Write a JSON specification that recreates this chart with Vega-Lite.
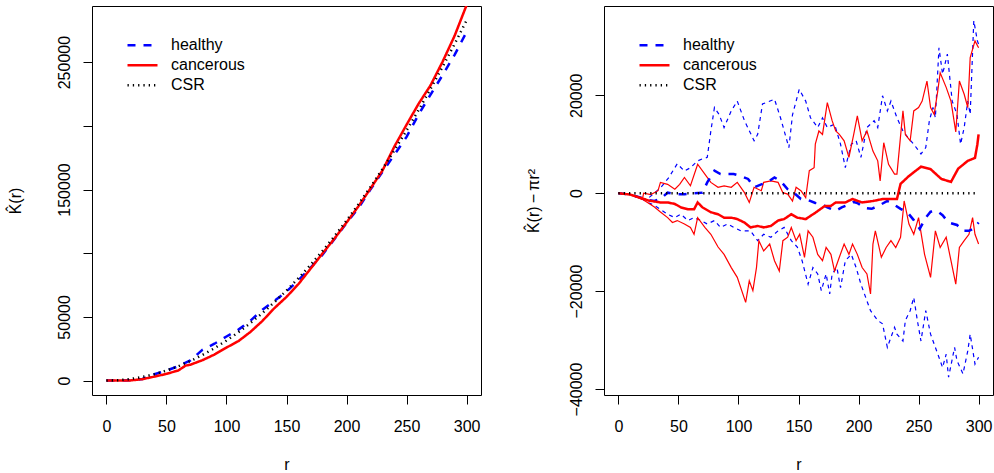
{
  "$schema": "https://vega.github.io/schema/vega-lite/v6.json",
  "padding": {"left": 6, "top": 5, "right": 0, "bottom": 0},
  "autosize": {"type": "pad"},
  "config": {
    "font": "Liberation Sans",
    "view": {"stroke": "black", "strokeWidth": 1},
    "axis": {"domain": false, "grid": false, "tickColor": "black", "tickSize": 9, "labelColor": "black", "titleColor": "black", "labelFontSize": 16, "titleFontSize": 16, "titleFontWeight": "normal", "labelFont": "Liberation Sans", "titleFont": "Liberation Sans", "labelOverlap": false, "labelFlush": false},
    "axisX": {"labelPadding": 14, "titlePadding": 22, "labelAngle": 0},
    "axisY": {"labelPadding": 11, "titlePadding": 33, "labelAngle": -90, "labelAlign": "center", "labelBaseline": "bottom"},
    "legend": {"orient": "none", "legendX": 34, "legendY": 29.5, "symbolType": "stroke", "symbolSize": 900, "labelFontSize": 16, "labelFont": "Liberation Sans", "labelColor": "black", "labelOffset": 12, "padding": 0, "rowPadding": 0, "clipHeight": 19.5}
  },
  "bounds": "flush",
  "spacing": 123,
  "datasets": {
    "left": [
      {"r":0,"series":"healthy","K":0},{"r":10,"series":"healthy","K":14},{"r":20,"series":"healthy","K":257},{"r":30,"series":"healthy","K":1227},{"r":40,"series":"healthy","K":5027},{"r":50,"series":"healthy","K":7854},{"r":60,"series":"healthy","K":11310},{"r":70,"series":"healthy","K":15894},{"r":80,"series":"healthy","K":24106},{"r":90,"series":"healthy","K":28947},{"r":100,"series":"healthy","K":34616},{"r":110,"series":"healthy","K":40013},{"r":120,"series":"healthy","K":47039},{"r":130,"series":"healthy","K":55593},{"r":140,"series":"healthy","K":62575},{"r":150,"series":"healthy","K":69886},{"r":160,"series":"healthy","K":78925},{"r":170,"series":"healthy","K":88592},{"r":180,"series":"healthy","K":98788},{"r":190,"series":"healthy","K":111212},{"r":200,"series":"healthy","K":123664},{"r":210,"series":"healthy","K":135544},{"r":220,"series":"healthy","K":150053},{"r":230,"series":"healthy","K":163990},{"r":240,"series":"healthy","K":177456},{"r":250,"series":"healthy","K":191350},{"r":260,"series":"healthy","K":208872},{"r":270,"series":"healthy","K":224522},{"r":280,"series":"healthy","K":239801},{"r":290,"series":"healthy","K":255708},{"r":300,"series":"healthy","K":273743},
      {"r":0,"series":"cancerous","K":0},{"r":10,"series":"cancerous","K":14},{"r":20,"series":"cancerous","K":157},{"r":30,"series":"cancerous","K":1127},{"r":40,"series":"cancerous","K":3127},{"r":50,"series":"cancerous","K":5254},{"r":60,"series":"cancerous","K":8010},{"r":66,"series":"cancerous","K":11785},{"r":70,"series":"cancerous","K":12494},{"r":80,"series":"cancerous","K":16006},{"r":90,"series":"cancerous","K":20447},{"r":100,"series":"cancerous","K":25916},{"r":110,"series":"cancerous","K":31013},{"r":120,"series":"cancerous","K":38239},{"r":130,"series":"cancerous","K":46893},{"r":140,"series":"cancerous","K":56975},{"r":150,"series":"cancerous","K":65686},{"r":160,"series":"cancerous","K":75825},{"r":170,"series":"cancerous","K":87792},{"r":180,"series":"cancerous","K":99788},{"r":190,"series":"cancerous","K":111512},{"r":200,"series":"cancerous","K":124064},{"r":210,"series":"cancerous","K":136944},{"r":220,"series":"cancerous","K":150853},{"r":230,"series":"cancerous","K":164990},{"r":240,"series":"cancerous","K":183956},{"r":250,"series":"cancerous","K":200850},{"r":260,"series":"cancerous","K":217272},{"r":270,"series":"cancerous","K":231822},{"r":280,"series":"cancerous","K":250301},{"r":290,"series":"cancerous","K":270608},{"r":300,"series":"cancerous","K":294743},
      {"r":0,"series":"CSR","K":0},{"r":10,"series":"CSR","K":314},{"r":20,"series":"CSR","K":1257},{"r":30,"series":"CSR","K":2827},{"r":40,"series":"CSR","K":5027},{"r":50,"series":"CSR","K":7854},{"r":60,"series":"CSR","K":11310},{"r":70,"series":"CSR","K":15394},{"r":80,"series":"CSR","K":20106},{"r":90,"series":"CSR","K":25447},{"r":100,"series":"CSR","K":31416},{"r":110,"series":"CSR","K":38013},{"r":120,"series":"CSR","K":45239},{"r":130,"series":"CSR","K":53093},{"r":140,"series":"CSR","K":61575},{"r":150,"series":"CSR","K":70686},{"r":160,"series":"CSR","K":80425},{"r":170,"series":"CSR","K":90792},{"r":180,"series":"CSR","K":101788},{"r":190,"series":"CSR","K":113411},{"r":200,"series":"CSR","K":125664},{"r":210,"series":"CSR","K":138544},{"r":220,"series":"CSR","K":152053},{"r":230,"series":"CSR","K":166190},{"r":240,"series":"CSR","K":180956},{"r":250,"series":"CSR","K":196350},{"r":260,"series":"CSR","K":212372},{"r":270,"series":"CSR","K":229022},{"r":280,"series":"CSR","K":246301},{"r":290,"series":"CSR","K":264208},{"r":300,"series":"CSR","K":282743}
    ],
    "right": [
      {"r":0,"series":"healthy","kind":"mean","v":0},{"r":10,"series":"healthy","kind":"mean","v":-300},{"r":20,"series":"healthy","kind":"mean","v":-1000},{"r":25,"series":"healthy","kind":"mean","v":-1400},{"r":30,"series":"healthy","kind":"mean","v":-1600},{"r":35,"series":"healthy","kind":"mean","v":-1200},{"r":41,"series":"healthy","kind":"mean","v":100},{"r":47,"series":"healthy","kind":"mean","v":-200},{"r":55,"series":"healthy","kind":"mean","v":-200},{"r":63,"series":"healthy","kind":"mean","v":0},{"r":70,"series":"healthy","kind":"mean","v":100},{"r":74,"series":"healthy","kind":"mean","v":2200},{"r":80,"series":"healthy","kind":"mean","v":4600},{"r":85,"series":"healthy","kind":"mean","v":3900},{"r":91,"series":"healthy","kind":"mean","v":3900},{"r":96,"series":"healthy","kind":"mean","v":3900},{"r":102,"series":"healthy","kind":"mean","v":3500},{"r":108,"series":"healthy","kind":"mean","v":2900},{"r":113,"series":"healthy","kind":"mean","v":1200},{"r":119,"series":"healthy","kind":"mean","v":1800},{"r":124,"series":"healthy","kind":"mean","v":2200},{"r":130,"series":"healthy","kind":"mean","v":3200},{"r":135,"series":"healthy","kind":"mean","v":2500},{"r":141,"series":"healthy","kind":"mean","v":800},{"r":146,"series":"healthy","kind":"mean","v":100},{"r":152,"series":"healthy","kind":"mean","v":-1200},{"r":158,"series":"healthy","kind":"mean","v":-1400},{"r":164,"series":"healthy","kind":"mean","v":-2000},{"r":169,"series":"healthy","kind":"mean","v":-2200},{"r":174,"series":"healthy","kind":"mean","v":-2900},{"r":181,"series":"healthy","kind":"mean","v":-3600},{"r":186,"series":"healthy","kind":"mean","v":-2900},{"r":191,"series":"healthy","kind":"mean","v":-2400},{"r":196,"series":"healthy","kind":"mean","v":-1800},{"r":199,"series":"healthy","kind":"mean","v":-2000},{"r":205,"series":"healthy","kind":"mean","v":-3000},{"r":211,"series":"healthy","kind":"mean","v":-3200},{"r":218,"series":"healthy","kind":"mean","v":-2400},{"r":224,"series":"healthy","kind":"mean","v":-1600},{"r":230,"series":"healthy","kind":"mean","v":-2400},{"r":235,"series":"healthy","kind":"mean","v":-3200},{"r":241,"series":"healthy","kind":"mean","v":-4000},{"r":246,"series":"healthy","kind":"mean","v":-5500},{"r":251,"series":"healthy","kind":"mean","v":-7300},{"r":256,"series":"healthy","kind":"mean","v":-5000},{"r":260,"series":"healthy","kind":"mean","v":-3800},{"r":265,"series":"healthy","kind":"mean","v":-3600},{"r":270,"series":"healthy","kind":"mean","v":-4500},{"r":275,"series":"healthy","kind":"mean","v":-6000},{"r":282,"series":"healthy","kind":"mean","v":-6500},{"r":287,"series":"healthy","kind":"mean","v":-7700},{"r":292,"series":"healthy","kind":"mean","v":-7700},{"r":296,"series":"healthy","kind":"mean","v":-7200},{"r":300,"series":"healthy","kind":"mean","v":-6000},
      {"r":0,"series":"cancerous","kind":"mean","v":0},{"r":10,"series":"cancerous","kind":"mean","v":-300},{"r":20,"series":"cancerous","kind":"mean","v":-1100},{"r":25,"series":"cancerous","kind":"mean","v":-1500},{"r":30,"series":"cancerous","kind":"mean","v":-1700},{"r":35,"series":"cancerous","kind":"mean","v":-1900},{"r":41,"series":"cancerous","kind":"mean","v":-1900},{"r":47,"series":"cancerous","kind":"mean","v":-2200},{"r":52,"series":"cancerous","kind":"mean","v":-2900},{"r":58,"series":"cancerous","kind":"mean","v":-3300},{"r":63,"series":"cancerous","kind":"mean","v":-3300},{"r":66,"series":"cancerous","kind":"mean","v":-1900},{"r":70,"series":"cancerous","kind":"mean","v":-2900},{"r":77,"series":"cancerous","kind":"mean","v":-3900},{"r":83,"series":"cancerous","kind":"mean","v":-4300},{"r":88,"series":"cancerous","kind":"mean","v":-5000},{"r":94,"series":"cancerous","kind":"mean","v":-5000},{"r":99,"series":"cancerous","kind":"mean","v":-5300},{"r":105,"series":"cancerous","kind":"mean","v":-6000},{"r":110,"series":"cancerous","kind":"mean","v":-7000},{"r":116,"series":"cancerous","kind":"mean","v":-6700},{"r":121,"series":"cancerous","kind":"mean","v":-7000},{"r":127,"series":"cancerous","kind":"mean","v":-6700},{"r":133,"series":"cancerous","kind":"mean","v":-5600},{"r":138,"series":"cancerous","kind":"mean","v":-5300},{"r":144,"series":"cancerous","kind":"mean","v":-4300},{"r":149,"series":"cancerous","kind":"mean","v":-5000},{"r":156,"series":"cancerous","kind":"mean","v":-5300},{"r":164,"series":"cancerous","kind":"mean","v":-4000},{"r":172,"series":"cancerous","kind":"mean","v":-2600},{"r":177,"series":"cancerous","kind":"mean","v":-2600},{"r":181,"series":"cancerous","kind":"mean","v":-1900},{"r":189,"series":"cancerous","kind":"mean","v":-1900},{"r":195,"series":"cancerous","kind":"mean","v":-1200},{"r":203,"series":"cancerous","kind":"mean","v":-1900},{"r":212,"series":"cancerous","kind":"mean","v":-1600},{"r":220,"series":"cancerous","kind":"mean","v":-1200},{"r":228,"series":"cancerous","kind":"mean","v":-1200},{"r":232,"series":"cancerous","kind":"mean","v":-1200},{"r":235,"series":"cancerous","kind":"mean","v":1900},{"r":242,"series":"cancerous","kind":"mean","v":3500},{"r":252,"series":"cancerous","kind":"mean","v":5400},{"r":260,"series":"cancerous","kind":"mean","v":4900},{"r":269,"series":"cancerous","kind":"mean","v":2900},{"r":277,"series":"cancerous","kind":"mean","v":2300},{"r":283,"series":"cancerous","kind":"mean","v":5000},{"r":291,"series":"cancerous","kind":"mean","v":6600},{"r":297,"series":"cancerous","kind":"mean","v":7200},{"r":299,"series":"cancerous","kind":"mean","v":10000},{"r":300,"series":"cancerous","kind":"mean","v":12000},
      {"r":0,"series":"CSR","kind":"mean","v":0},{"r":300,"series":"CSR","kind":"mean","v":0},
      {"r":0,"series":"healthy","kind":"upper","v":0},{"r":10,"series":"healthy","kind":"upper","v":-300},{"r":20,"series":"healthy","kind":"upper","v":-1200},{"r":25,"series":"healthy","kind":"upper","v":-1000},{"r":30,"series":"healthy","kind":"upper","v":0},{"r":35.5,"series":"healthy","kind":"upper","v":1200},{"r":42,"series":"healthy","kind":"upper","v":3200},{"r":49,"series":"healthy","kind":"upper","v":6000},{"r":55,"series":"healthy","kind":"upper","v":4500},{"r":60,"series":"healthy","kind":"upper","v":5200},{"r":66,"series":"healthy","kind":"upper","v":6600},{"r":70,"series":"healthy","kind":"upper","v":7000},{"r":74,"series":"healthy","kind":"upper","v":7300},{"r":77,"series":"healthy","kind":"upper","v":12700},{"r":80,"series":"healthy","kind":"upper","v":17500},{"r":84,"series":"healthy","kind":"upper","v":16000},{"r":88,"series":"healthy","kind":"upper","v":13400},{"r":94,"series":"healthy","kind":"upper","v":16800},{"r":99,"series":"healthy","kind":"upper","v":18800},{"r":105,"series":"healthy","kind":"upper","v":14800},{"r":113,"series":"healthy","kind":"upper","v":10700},{"r":116,"series":"healthy","kind":"upper","v":12000},{"r":120,"series":"healthy","kind":"upper","v":18200},{"r":130,"series":"healthy","kind":"upper","v":19200},{"r":135,"series":"healthy","kind":"upper","v":15400},{"r":142,"series":"healthy","kind":"upper","v":9300},{"r":145,"series":"healthy","kind":"upper","v":16000},{"r":150.6,"series":"healthy","kind":"upper","v":21200},{"r":156,"series":"healthy","kind":"upper","v":18800},{"r":160,"series":"healthy","kind":"upper","v":15400},{"r":166,"series":"healthy","kind":"upper","v":13400},{"r":170,"series":"healthy","kind":"upper","v":15400},{"r":174,"series":"healthy","kind":"upper","v":13400},{"r":180,"series":"healthy","kind":"upper","v":14100},{"r":185,"series":"healthy","kind":"upper","v":10000},{"r":189,"series":"healthy","kind":"upper","v":5200},{"r":194,"series":"healthy","kind":"upper","v":10000},{"r":198,"series":"healthy","kind":"upper","v":10700},{"r":202,"series":"healthy","kind":"upper","v":7300},{"r":207,"series":"healthy","kind":"upper","v":13400},{"r":213,"series":"healthy","kind":"upper","v":14800},{"r":216,"series":"healthy","kind":"upper","v":13400},{"r":220,"series":"healthy","kind":"upper","v":19900},{"r":224,"series":"healthy","kind":"upper","v":16800},{"r":227,"series":"healthy","kind":"upper","v":18800},{"r":232,"series":"healthy","kind":"upper","v":15400},{"r":237,"series":"healthy","kind":"upper","v":12700},{"r":241,"series":"healthy","kind":"upper","v":11400},{"r":246,"series":"healthy","kind":"upper","v":10000},{"r":252,"series":"healthy","kind":"upper","v":8000},{"r":256,"series":"healthy","kind":"upper","v":9300},{"r":259,"series":"healthy","kind":"upper","v":14800},{"r":262,"series":"healthy","kind":"upper","v":17500},{"r":264,"series":"healthy","kind":"upper","v":15400},{"r":267,"series":"healthy","kind":"upper","v":29700},{"r":270,"series":"healthy","kind":"upper","v":24300},{"r":274,"series":"healthy","kind":"upper","v":28400},{"r":278,"series":"healthy","kind":"upper","v":18800},{"r":282,"series":"healthy","kind":"upper","v":16100},{"r":285,"series":"healthy","kind":"upper","v":10000},{"r":288,"series":"healthy","kind":"upper","v":13400},{"r":291,"series":"healthy","kind":"upper","v":18800},{"r":293,"series":"healthy","kind":"upper","v":16100},{"r":296,"series":"healthy","kind":"upper","v":35200},{"r":299,"series":"healthy","kind":"upper","v":31100},{"r":300,"series":"healthy","kind":"upper","v":30400},
      {"r":0,"series":"healthy","kind":"lower","v":0},{"r":10,"series":"healthy","kind":"lower","v":-300},{"r":20,"series":"healthy","kind":"lower","v":-1260},{"r":25,"series":"healthy","kind":"lower","v":-1960},{"r":30,"series":"healthy","kind":"lower","v":-2500},{"r":35,"series":"healthy","kind":"lower","v":-3300},{"r":41,"series":"healthy","kind":"lower","v":-4300},{"r":47,"series":"healthy","kind":"lower","v":-5000},{"r":52,"series":"healthy","kind":"lower","v":-4300},{"r":58,"series":"healthy","kind":"lower","v":-5600},{"r":63,"series":"healthy","kind":"lower","v":-5000},{"r":69,"series":"healthy","kind":"lower","v":-5600},{"r":74,"series":"healthy","kind":"lower","v":-6300},{"r":80,"series":"healthy","kind":"lower","v":-5600},{"r":85,"series":"healthy","kind":"lower","v":-7000},{"r":91,"series":"healthy","kind":"lower","v":-6300},{"r":96,"series":"healthy","kind":"lower","v":-7000},{"r":102,"series":"healthy","kind":"lower","v":-7700},{"r":110,"series":"healthy","kind":"lower","v":-7700},{"r":116,"series":"healthy","kind":"lower","v":-9700},{"r":121,"series":"healthy","kind":"lower","v":-8400},{"r":127,"series":"healthy","kind":"lower","v":-9000},{"r":133,"series":"healthy","kind":"lower","v":-7700},{"r":138,"series":"healthy","kind":"lower","v":-7000},{"r":144,"series":"healthy","kind":"lower","v":-9700},{"r":149,"series":"healthy","kind":"lower","v":-11000},{"r":153,"series":"healthy","kind":"lower","v":-13800},{"r":158,"series":"healthy","kind":"lower","v":-18600},{"r":162,"series":"healthy","kind":"lower","v":-15200},{"r":166,"series":"healthy","kind":"lower","v":-16500},{"r":169,"series":"healthy","kind":"lower","v":-19900},{"r":173,"series":"healthy","kind":"lower","v":-16500},{"r":176,"series":"healthy","kind":"lower","v":-20600},{"r":178,"series":"healthy","kind":"lower","v":-16500},{"r":182,"series":"healthy","kind":"lower","v":-15200},{"r":185,"series":"healthy","kind":"lower","v":-19300},{"r":189,"series":"healthy","kind":"lower","v":-13800},{"r":194,"series":"healthy","kind":"lower","v":-12500},{"r":198,"series":"healthy","kind":"lower","v":-15200},{"r":202,"series":"healthy","kind":"lower","v":-18600},{"r":207,"series":"healthy","kind":"lower","v":-22000},{"r":210,"series":"healthy","kind":"lower","v":-24000},{"r":216,"series":"healthy","kind":"lower","v":-26000},{"r":220,"series":"healthy","kind":"lower","v":-26700},{"r":224,"series":"healthy","kind":"lower","v":-31500},{"r":230,"series":"healthy","kind":"lower","v":-27400},{"r":232,"series":"healthy","kind":"lower","v":-28800},{"r":237,"series":"healthy","kind":"lower","v":-30200},{"r":239,"series":"healthy","kind":"lower","v":-26000},{"r":243,"series":"healthy","kind":"lower","v":-24000},{"r":246,"series":"healthy","kind":"lower","v":-21300},{"r":249,"series":"healthy","kind":"lower","v":-26000},{"r":252,"series":"healthy","kind":"lower","v":-30200},{"r":256,"series":"healthy","kind":"lower","v":-24000},{"r":260,"series":"healthy","kind":"lower","v":-28800},{"r":264,"series":"healthy","kind":"lower","v":-31500},{"r":270,"series":"healthy","kind":"lower","v":-35600},{"r":273,"series":"healthy","kind":"lower","v":-32900},{"r":275,"series":"healthy","kind":"lower","v":-37600},{"r":280,"series":"healthy","kind":"lower","v":-31500},{"r":282,"series":"healthy","kind":"lower","v":-34200},{"r":287,"series":"healthy","kind":"lower","v":-36900},{"r":291,"series":"healthy","kind":"lower","v":-32200},{"r":293,"series":"healthy","kind":"lower","v":-28800},{"r":297,"series":"healthy","kind":"lower","v":-34900},{"r":300,"series":"healthy","kind":"lower","v":-33500},
      {"r":0,"series":"cancerous","kind":"upper","v":0},{"r":10,"series":"cancerous","kind":"upper","v":-300},{"r":20,"series":"cancerous","kind":"upper","v":-1200},{"r":21,"series":"cancerous","kind":"upper","v":0},{"r":27,"series":"cancerous","kind":"upper","v":-300},{"r":33,"series":"cancerous","kind":"upper","v":500},{"r":35,"series":"cancerous","kind":"upper","v":2200},{"r":41,"series":"cancerous","kind":"upper","v":1800},{"r":47,"series":"cancerous","kind":"upper","v":800},{"r":51,"series":"cancerous","kind":"upper","v":1800},{"r":55,"series":"cancerous","kind":"upper","v":3200},{"r":60,"series":"cancerous","kind":"upper","v":1500},{"r":66,"series":"cancerous","kind":"upper","v":5900},{"r":72,"series":"cancerous","kind":"upper","v":3900},{"r":77,"series":"cancerous","kind":"upper","v":2200},{"r":83,"series":"cancerous","kind":"upper","v":1200},{"r":88,"series":"cancerous","kind":"upper","v":1500},{"r":94,"series":"cancerous","kind":"upper","v":1200},{"r":99,"series":"cancerous","kind":"upper","v":2200},{"r":105,"series":"cancerous","kind":"upper","v":100},{"r":109,"series":"cancerous","kind":"upper","v":-1900},{"r":113,"series":"cancerous","kind":"upper","v":1200},{"r":119,"series":"cancerous","kind":"upper","v":500},{"r":121,"series":"cancerous","kind":"upper","v":2200},{"r":127,"series":"cancerous","kind":"upper","v":2500},{"r":133,"series":"cancerous","kind":"upper","v":2200},{"r":137,"series":"cancerous","kind":"upper","v":100},{"r":141,"series":"cancerous","kind":"upper","v":-200},{"r":145,"series":"cancerous","kind":"upper","v":-1600},{"r":148,"series":"cancerous","kind":"upper","v":1200},{"r":152,"series":"cancerous","kind":"upper","v":500},{"r":156,"series":"cancerous","kind":"upper","v":-900},{"r":159,"series":"cancerous","kind":"upper","v":4600},{"r":163,"series":"cancerous","kind":"upper","v":5200},{"r":164,"series":"cancerous","kind":"upper","v":10000},{"r":167,"series":"cancerous","kind":"upper","v":12700},{"r":170,"series":"cancerous","kind":"upper","v":12000},{"r":174,"series":"cancerous","kind":"upper","v":18500},{"r":178,"series":"cancerous","kind":"upper","v":14800},{"r":181,"series":"cancerous","kind":"upper","v":12700},{"r":184,"series":"cancerous","kind":"upper","v":12000},{"r":188,"series":"cancerous","kind":"upper","v":10700},{"r":192,"series":"cancerous","kind":"upper","v":7300},{"r":196,"series":"cancerous","kind":"upper","v":12000},{"r":199,"series":"cancerous","kind":"upper","v":15800},{"r":203,"series":"cancerous","kind":"upper","v":10700},{"r":207,"series":"cancerous","kind":"upper","v":12700},{"r":212,"series":"cancerous","kind":"upper","v":8600},{"r":216,"series":"cancerous","kind":"upper","v":6600},{"r":218,"series":"cancerous","kind":"upper","v":2500},{"r":221,"series":"cancerous","kind":"upper","v":10300},{"r":225,"series":"cancerous","kind":"upper","v":5900},{"r":230,"series":"cancerous","kind":"upper","v":3900},{"r":232,"series":"cancerous","kind":"upper","v":3900},{"r":237,"series":"cancerous","kind":"upper","v":16800},{"r":239,"series":"cancerous","kind":"upper","v":12000},{"r":243,"series":"cancerous","kind":"upper","v":10700},{"r":246,"series":"cancerous","kind":"upper","v":16800},{"r":250,"series":"cancerous","kind":"upper","v":17500},{"r":253,"series":"cancerous","kind":"upper","v":18800},{"r":257,"series":"cancerous","kind":"upper","v":22900},{"r":260,"series":"cancerous","kind":"upper","v":17500},{"r":263,"series":"cancerous","kind":"upper","v":16100},{"r":266,"series":"cancerous","kind":"upper","v":20900},{"r":268,"series":"cancerous","kind":"upper","v":24600},{"r":273,"series":"cancerous","kind":"upper","v":21600},{"r":277,"series":"cancerous","kind":"upper","v":18800},{"r":281,"series":"cancerous","kind":"upper","v":12500},{"r":284,"series":"cancerous","kind":"upper","v":22900},{"r":288,"series":"cancerous","kind":"upper","v":20200},{"r":291,"series":"cancerous","kind":"upper","v":17500},{"r":293,"series":"cancerous","kind":"upper","v":27700},{"r":297,"series":"cancerous","kind":"upper","v":31100},{"r":300,"series":"cancerous","kind":"upper","v":29700},
      {"r":0,"series":"cancerous","kind":"lower","v":0},{"r":10,"series":"cancerous","kind":"lower","v":-310},{"r":20,"series":"cancerous","kind":"lower","v":-1260},{"r":30,"series":"cancerous","kind":"lower","v":-2830},{"r":35,"series":"cancerous","kind":"lower","v":-3850},{"r":41,"series":"cancerous","kind":"lower","v":-5000},{"r":45,"series":"cancerous","kind":"lower","v":-6000},{"r":49,"series":"cancerous","kind":"lower","v":-5600},{"r":55,"series":"cancerous","kind":"lower","v":-6300},{"r":60,"series":"cancerous","kind":"lower","v":-7000},{"r":63,"series":"cancerous","kind":"lower","v":-8400},{"r":66,"series":"cancerous","kind":"lower","v":-5000},{"r":72,"series":"cancerous","kind":"lower","v":-7000},{"r":77,"series":"cancerous","kind":"lower","v":-8400},{"r":83,"series":"cancerous","kind":"lower","v":-11000},{"r":88,"series":"cancerous","kind":"lower","v":-12500},{"r":94,"series":"cancerous","kind":"lower","v":-15200},{"r":99,"series":"cancerous","kind":"lower","v":-17200},{"r":106,"series":"cancerous","kind":"lower","v":-22300},{"r":109,"series":"cancerous","kind":"lower","v":-17900},{"r":112,"series":"cancerous","kind":"lower","v":-19900},{"r":115,"series":"cancerous","kind":"lower","v":-15200},{"r":117,"series":"cancerous","kind":"lower","v":-9700},{"r":121,"series":"cancerous","kind":"lower","v":-11800},{"r":126,"series":"cancerous","kind":"lower","v":-10400},{"r":130,"series":"cancerous","kind":"lower","v":-13800},{"r":134,"series":"cancerous","kind":"lower","v":-15900},{"r":137,"series":"cancerous","kind":"lower","v":-9700},{"r":141,"series":"cancerous","kind":"lower","v":-9000},{"r":144,"series":"cancerous","kind":"lower","v":-7000},{"r":148,"series":"cancerous","kind":"lower","v":-9700},{"r":151,"series":"cancerous","kind":"lower","v":-8400},{"r":155,"series":"cancerous","kind":"lower","v":-13100},{"r":158,"series":"cancerous","kind":"lower","v":-7700},{"r":162,"series":"cancerous","kind":"lower","v":-9000},{"r":166,"series":"cancerous","kind":"lower","v":-12500},{"r":170,"series":"cancerous","kind":"lower","v":-13800},{"r":173,"series":"cancerous","kind":"lower","v":-11100},{"r":177,"series":"cancerous","kind":"lower","v":-12500},{"r":180,"series":"cancerous","kind":"lower","v":-15900},{"r":184,"series":"cancerous","kind":"lower","v":-13100},{"r":188,"series":"cancerous","kind":"lower","v":-10400},{"r":192,"series":"cancerous","kind":"lower","v":-12500},{"r":195,"series":"cancerous","kind":"lower","v":-10400},{"r":199,"series":"cancerous","kind":"lower","v":-12500},{"r":203,"series":"cancerous","kind":"lower","v":-15200},{"r":207,"series":"cancerous","kind":"lower","v":-16500},{"r":210,"series":"cancerous","kind":"lower","v":-20600},{"r":212,"series":"cancerous","kind":"lower","v":-10400},{"r":214,"series":"cancerous","kind":"lower","v":-7700},{"r":219,"series":"cancerous","kind":"lower","v":-13100},{"r":223,"series":"cancerous","kind":"lower","v":-11100},{"r":227,"series":"cancerous","kind":"lower","v":-9700},{"r":231,"series":"cancerous","kind":"lower","v":-11100},{"r":235,"series":"cancerous","kind":"lower","v":-9000},{"r":238,"series":"cancerous","kind":"lower","v":-1600},{"r":242,"series":"cancerous","kind":"lower","v":-6300},{"r":246,"series":"cancerous","kind":"lower","v":-8400},{"r":250,"series":"cancerous","kind":"lower","v":-5000},{"r":255,"series":"cancerous","kind":"lower","v":-12500},{"r":260,"series":"cancerous","kind":"lower","v":-17200},{"r":264,"series":"cancerous","kind":"lower","v":-7700},{"r":268,"series":"cancerous","kind":"lower","v":-11100},{"r":273,"series":"cancerous","kind":"lower","v":-9000},{"r":277,"series":"cancerous","kind":"lower","v":-13800},{"r":281,"series":"cancerous","kind":"lower","v":-18600},{"r":284,"series":"cancerous","kind":"lower","v":-11100},{"r":288,"series":"cancerous","kind":"lower","v":-9700},{"r":292,"series":"cancerous","kind":"lower","v":-8400},{"r":295,"series":"cancerous","kind":"lower","v":-5000},{"r":297,"series":"cancerous","kind":"lower","v":-8400},{"r":300,"series":"cancerous","kind":"lower","v":-10400}
    ]
  },
  "hconcat": [
    {
      "width": 389,
      "height": 389,
      "data": {"name": "left"},
      "mark": {"type": "line", "clip": true},
      "encoding": {
        "x": {"field": "r", "type": "quantitative", "scale": {"domain": [-12, 312], "nice": false, "zero": false}, "axis": {"values": [0, 50, 100, 150, 200, 250, 300], "title": "r"}},
        "y": {"field": "K", "type": "quantitative", "scale": {"domain": [-11310, 294053], "nice": false, "zero": false}, "axis": {"values": [0, 50000, 100000, 150000, 200000, 250000], "labelExpr": "datum.value == 100000 || datum.value == 200000 ? '' : format(datum.value, 'd')", "title": "K\u0302(r)"}},
        "color": {"field": "series", "type": "nominal", "title": null, "scale": {"domain": ["healthy", "cancerous", "CSR"], "range": ["#0000ff", "#ff0000", "#000000"]}, "legend": {"title": null}},
        "strokeDash": {"field": "series", "type": "nominal", "title": null, "scale": {"domain": ["healthy", "cancerous", "CSR"], "range": [[8, 8], [1, 0], [1.3, 4]]}, "legend": {"title": null}},
        "strokeWidth": {"field": "series", "type": "nominal", "title": null, "scale": {"domain": ["healthy", "cancerous", "CSR"], "range": [2.5, 2.5, 1.2]}, "legend": {"title": null}}
      }
    },
    {
      "width": 389,
      "height": 389,
      "data": {"name": "right"},
      "encoding": {
        "x": {"field": "r", "type": "quantitative", "scale": {"domain": [-12, 312], "nice": false, "zero": false}, "axis": {"values": [0, 50, 100, 150, 200, 250, 300], "title": "r"}},
        "y": {"field": "v", "type": "quantitative", "scale": {"domain": [-41224, 38224], "nice": false, "zero": false}, "axis": {"values": [-40000, -20000, 0, 20000], "format": "d", "title": "K\u0302(r)\u2009\u2212\u2009\u03c0r\u00b2", "titlePadding": 27}}
      },
      "layer": [
        {
          "transform": [{"filter": "datum.series == 'healthy' && datum.kind != 'mean'"}],
          "mark": {"type": "line", "clip": true, "color": "#0000ff", "strokeWidth": 1.2, "strokeDash": [4, 4]},
          "encoding": {"detail": {"field": "kind", "type": "nominal"}}
        },
        {
          "transform": [{"filter": "datum.series == 'cancerous' && datum.kind != 'mean'"}],
          "mark": {"type": "line", "clip": true, "color": "#ff0000", "strokeWidth": 1.2},
          "encoding": {"detail": {"field": "kind", "type": "nominal"}}
        },
        {
          "transform": [{"filter": "datum.kind == 'mean'"}],
          "mark": {"type": "line", "clip": true},
          "encoding": {
            "color": {"field": "series", "type": "nominal", "title": null, "scale": {"domain": ["healthy", "cancerous", "CSR"], "range": ["#0000ff", "#ff0000", "#000000"]}, "legend": {"title": null}},
            "strokeDash": {"field": "series", "type": "nominal", "title": null, "scale": {"domain": ["healthy", "cancerous", "CSR"], "range": [[8, 8], [1, 0], [1.3, 4]]}, "legend": {"title": null}},
            "strokeWidth": {"field": "series", "type": "nominal", "title": null, "scale": {"domain": ["healthy", "cancerous", "CSR"], "range": [2.5, 2.5, 1.2]}, "legend": {"title": null}}
          }
        }
      ]
    }
  ],
  "resolve": {"scale": {"color": "independent", "strokeDash": "independent", "strokeWidth": "independent"}}
}
